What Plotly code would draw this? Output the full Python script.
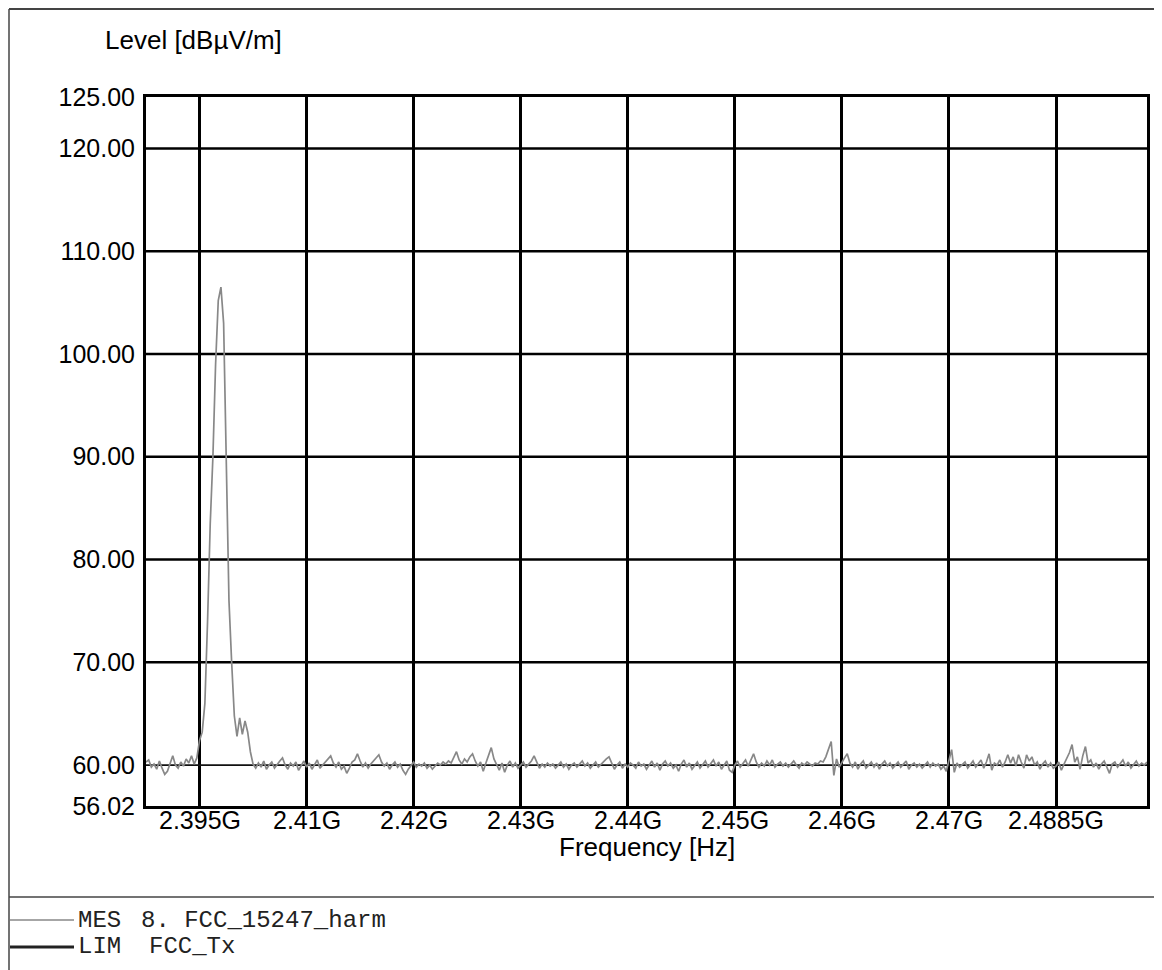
import numpy as np
import plotly.graph_objects as go

# ---------------- data ----------------
freq_start_hz = 2.395e9
freq_step_hz = 0.25e6

mes_level = [
    60.3, 60.5, 59.8, 60.1, 59.6, 60.4, 59.7, 59.1, 59.4, 60.2,
    60.9, 60.0, 59.7, 60.3, 59.9, 60.6, 60.2, 60.9, 60.1, 60.7,
    62.4, 63.2, 66.0, 74.0, 83.5, 90.0, 99.0, 105.2, 106.5, 103.0,
    91.0, 76.0, 70.0, 64.8, 62.8, 64.6, 63.0, 64.3, 63.2, 61.3,
    60.1, 59.7, 60.2, 59.8, 60.4, 59.6, 60.0, 60.3, 59.7, 60.1,
    60.4, 60.7, 60.0, 59.6, 60.2, 59.9, 60.3, 59.5, 60.0, 60.4,
    59.8, 60.2, 59.6, 60.1, 60.5, 59.7, 60.0, 60.4, 60.6, 60.9,
    60.2, 59.8, 60.3, 59.6, 59.9, 59.2, 59.7, 60.3, 60.5, 61.1,
    60.4, 59.8, 60.2, 59.7, 60.1, 60.4, 60.6, 61.0, 60.3, 59.9,
    60.2, 59.6, 60.0, 60.3, 59.8, 60.1, 59.5, 59.1, 59.6, 60.0,
    60.3, 59.8, 60.1, 59.9, 60.2, 59.7, 60.0, 59.6, 59.9, 60.2,
    60.0, 60.3, 60.1, 60.4, 60.2, 60.7, 61.3, 60.5, 60.1, 60.6,
    60.3, 60.8, 61.1, 60.4, 59.9, 60.3, 59.4, 60.2, 61.0, 61.7,
    60.6, 60.1, 59.5, 60.2, 59.3, 60.0, 60.4, 59.8, 60.2, 59.7,
    60.0, 60.3, 59.8, 60.1, 60.4, 60.9, 60.2, 59.7, 60.1, 59.8,
    60.2, 59.9, 60.1, 59.7, 60.0, 60.3, 59.8, 60.1, 59.6, 60.0,
    60.2, 59.8, 60.1, 60.4, 59.9, 60.2, 59.7, 60.0, 60.3, 59.8,
    60.1, 60.4, 60.6, 60.8, 60.2, 59.6, 60.0, 60.3, 59.7, 60.1,
    59.8, 60.2, 60.0, 59.7, 60.3, 59.9, 60.1, 59.6, 60.0, 60.4,
    59.8, 60.2, 59.5, 60.1, 60.4, 59.9, 60.2, 59.7, 60.0, 59.4,
    60.1, 60.5, 59.8, 60.2, 59.6, 60.0, 60.3, 59.7, 60.1, 60.4,
    59.8, 60.2, 60.5, 59.9, 60.3, 59.6, 60.0, 60.4, 59.5, 59.3,
    60.0, 60.4, 59.8, 60.2, 60.5, 59.9, 60.6, 61.1, 60.3, 59.8,
    60.2, 59.9, 60.4, 60.0, 60.5, 59.8, 60.1, 60.3, 59.9, 60.2,
    59.8, 60.1, 60.4, 60.0, 59.7, 60.2, 60.0, 60.3, 60.1, 59.9,
    60.2, 60.1, 60.4, 60.3, 60.8, 61.5, 62.3, 59.0, 60.6, 59.8,
    60.3, 60.7, 61.1, 60.2, 59.8, 60.3, 59.6, 60.1, 60.4, 59.7,
    60.0, 60.3, 59.8, 60.2, 59.6, 60.1, 60.4, 59.9, 60.2, 59.7,
    60.0, 60.3, 59.8, 60.1, 60.4, 59.6, 60.0, 60.2, 59.8, 60.1,
    59.7, 60.0, 60.3, 59.8, 60.2, 59.9, 60.1, 59.6, 59.9, 59.4,
    60.6, 61.5, 59.3, 60.2, 59.8, 60.1, 60.3, 59.7, 60.0, 60.4,
    59.8, 60.2, 60.5, 59.7, 60.3, 61.1, 59.5, 60.2, 60.0, 60.5,
    59.8, 60.3, 61.0, 60.2, 60.8, 59.9, 61.0, 60.3, 59.7, 61.0,
    60.4, 60.8, 60.0, 60.3, 59.6, 60.1, 60.4, 59.8, 60.2, 59.7,
    59.9, 60.3, 59.5, 60.1, 60.7, 61.2, 62.0, 60.3, 60.8, 59.6,
    60.9, 61.8, 60.2, 60.5, 59.8, 60.2, 59.6, 60.1, 60.4, 59.8,
    59.2, 60.1, 60.3, 59.8, 60.2, 60.5, 59.9, 60.3, 59.7, 60.1,
    60.4, 59.9, 60.2, 60.0, 60.3,
]

lim_freq_hz = [2.395e9, 2.4885e9]
lim_level = [60.0, 60.0]

x_range = [2.395e9, 2.4885e9]
y_range = [56.02, 125.0]

x_tickvals = [2.40e9, 2.41e9, 2.42e9, 2.43e9, 2.44e9, 2.45e9, 2.46e9, 2.47e9, 2.48e9]
x_ticktext = ["2.395G", "2.41G", "2.42G", "2.43G", "2.44G", "2.45G", "2.46G", "2.47G", "2.4885G"]

y_tickvals = [56.02, 60, 70, 80, 90, 100, 110, 120, 125]
y_ticktext = ["56.02", "60.00", "70.00", "80.00", "90.00", "100.00", "110.00", "120.00", "125.00"]
y_grid_levels = [70, 80, 90, 100, 110, 120]

legend_keys = ["MES", "LIM"]
legend_names = ["8. FCC_15247_harm", "FCC_Tx"]

mes_freq_hz = freq_start_hz + freq_step_hz * np.arange(len(mes_level))

# ---------------- layout helpers ----------------
# page pixel geometry of the plot area; the page body adds an 8 px offset
W, H = 1162, 970
OFF = 8
L, R, T, B = 146, 1147, 97, 806


def px_x(px):
    return (px - L) / (R - L)


def px_y(py):
    return (B - py) / (B - T)


FONT = "Liberation Sans, Arial, sans-serif"
MONO = "Liberation Mono, Courier New, monospace"

fig = go.Figure()

fig.add_trace(go.Scatter(
    x=lim_freq_hz, y=lim_level, mode="lines", name="LIM",
    line=dict(color="#111111", width=1.8), showlegend=False,
))
fig.add_trace(go.Scatter(
    x=mes_freq_hz, y=mes_level, mode="lines", name="MES",
    line=dict(color="#888888", width=1.7), showlegend=False,
))

shapes = []
for v in y_grid_levels:
    shapes.append(dict(type="line", xref="paper", yref="y", x0=0, x1=1, y0=v, y1=v,
                       line=dict(color="black", width=2.5), layer="below"))

# outer frame and separator
frame_col = "#444444"
shapes += [
    dict(type="line", xref="paper", yref="paper", x0=px_x(9), x1=px_x(9), y0=px_y(9), y1=px_y(980),
         line=dict(color=frame_col, width=1.5)),
    dict(type="line", xref="paper", yref="paper", x0=px_x(9), x1=px_x(1158), y0=px_y(9), y1=px_y(9),
         line=dict(color=frame_col, width=2)),
    dict(type="line", xref="paper", yref="paper", x0=px_x(9), x1=px_x(1168), y0=px_y(897), y1=px_y(897),
         line=dict(color=frame_col, width=1.5)),
]

row_y = [920, 947]
name_x = [140, 148]
sample_styles = [dict(color="#888888", width=1.5), dict(color="#222222", width=3)]
annotations = [
    dict(text="Level [dBµV/m]", xref="paper", yref="paper", x=px_x(103), y=px_y(40),
         xanchor="left", yanchor="middle", showarrow=False, font=dict(family=FONT, size=26, color="black")),
    dict(text="Frequency [Hz]", xref="paper", yref="paper", x=px_x(647), y=px_y(847),
         xanchor="center", yanchor="middle", showarrow=False, font=dict(family=FONT, size=26, color="black")),
]
for key, name, yy, nx, st in zip(legend_keys, legend_names, row_y, name_x, sample_styles):
    shapes.append(dict(type="line", xref="paper", yref="paper", x0=px_x(10), x1=px_x(74),
                       y0=px_y(yy), y1=px_y(yy), line=st))
    annotations.append(dict(text=key, xref="paper", yref="paper", x=px_x(77), y=px_y(yy),
                            xanchor="left", yanchor="middle", showarrow=False, borderpad=0,
                            font=dict(family=MONO, size=24, color="#222")))
    annotations.append(dict(text=name, xref="paper", yref="paper", x=px_x(nx), y=px_y(yy),
                            xanchor="left", yanchor="middle", showarrow=False, borderpad=0,
                            font=dict(family=MONO, size=24, color="#222")))

# x tick labels placed through the x axis scale
for tv, tt in zip(x_tickvals, x_ticktext):
    annotations.append(dict(text=tt, xref="x", yref="paper", x=tv, y=px_y(820),
                            xanchor="center", yanchor="middle", showarrow=False,
                            font=dict(family=FONT, size=25, color="black")))

fig.update_layout(
    width=W, height=H,
    margin=dict(l=L - OFF, r=W - (R - OFF), t=T - OFF, b=H - (B - OFF), pad=0),
    paper_bgcolor="white", plot_bgcolor="white",
    font=dict(family=FONT, size=25, color="black"),
    shapes=shapes, annotations=annotations,
    showlegend=False,
)
fig.update_xaxes(
    range=x_range, tickmode="array", tickvals=x_tickvals, ticktext=x_ticktext,
    showticklabels=False,
    showgrid=True, gridcolor="black", gridwidth=2.5,
    showline=True, linecolor="black", linewidth=3, mirror=True,
    ticks="", zeroline=False,
)
fig.update_yaxes(
    range=y_range, tickmode="array", tickvals=y_tickvals, ticktext=y_ticktext,
    showgrid=False,
    showline=True, linecolor="black", linewidth=3, mirror=True,
    ticks="", zeroline=False, tickfont=dict(size=25), ticklabelstandoff=3,
)

fig.write_html("out.html")
